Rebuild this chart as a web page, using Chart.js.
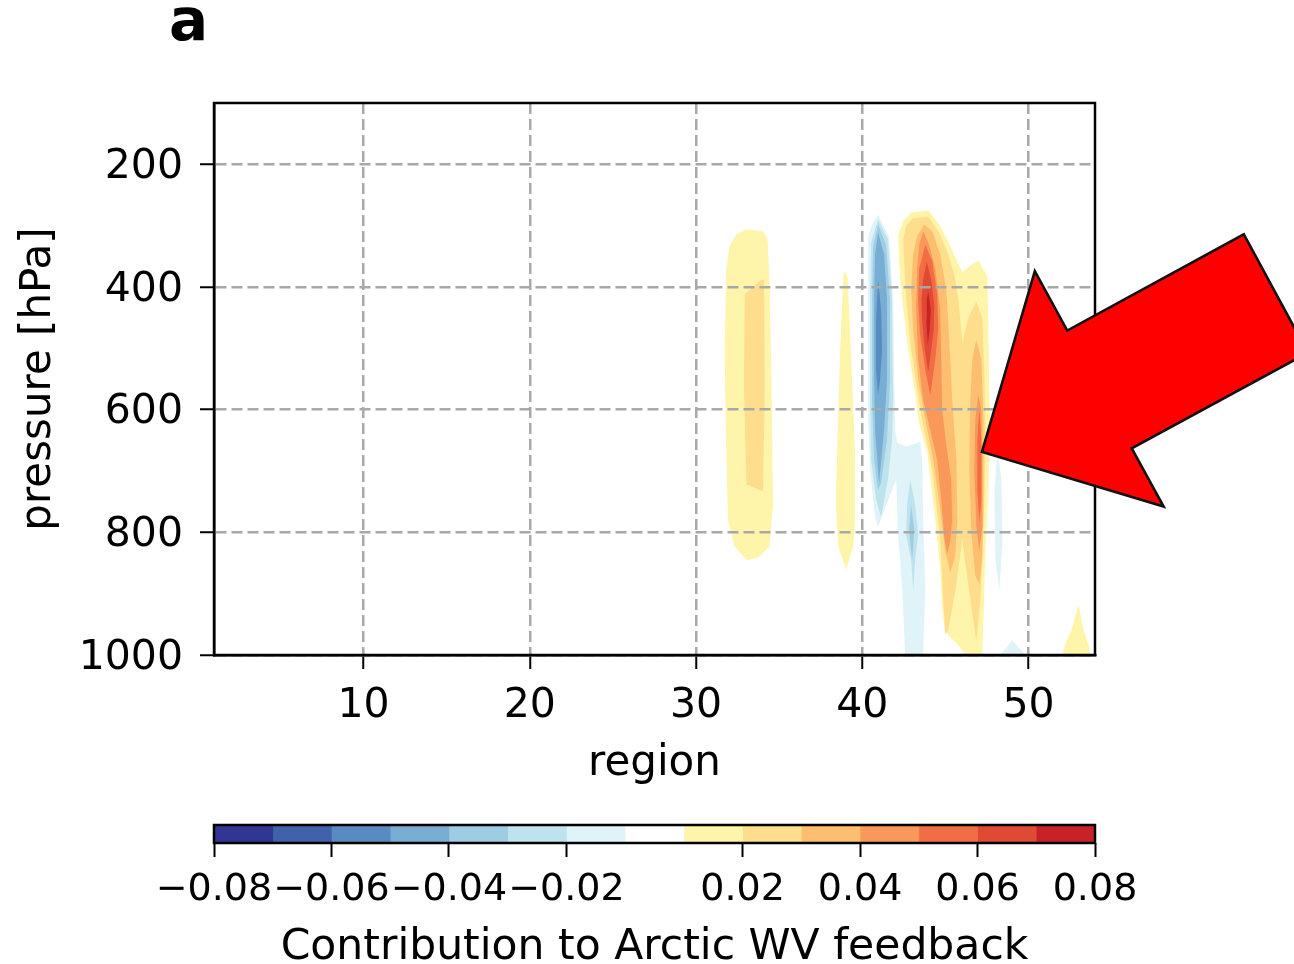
<!DOCTYPE html>
<html>
<head>
<meta charset="utf-8">
<script src="https://cdn.jsdelivr.net/npm/chart.js@4.4.0/dist/chart.umd.min.js"></script>
<style>
	html, body { margin: 0; padding: 0; background: #fff; }
	#wrap { position: relative; width: 1294px; height: 964px; overflow: hidden; }
	#wrap canvas { position: absolute; left: 0; }
	#main { top: 0; }
	#cbar { top: 790px; }
	#panel { position: absolute; left: 169px; top: -9px; font: bold 58px "DejaVu Sans"; line-height: 58px; color: #000; }
</style>
</head>
<body>
<div id="wrap">
	<canvas id="main" width="1294" height="964"></canvas>
	<canvas id="cbar" width="1294" height="174"></canvas>
	<div id="panel">a</div>
</div>
<script>

/*
 |
 | Contour levels and colours (shared by the plot and the colour bar)
 |
 */
let levels = [ -0.08, -0.07, -0.06, -0.05, -0.04, -0.03, -0.02, -0.01, 0.01, 0.02, 0.03, 0.04, 0.05, 0.06, 0.07, 0.08 ]
let bandColors = [
	"#313695", "#4062aa", "#588bc1", "#78aed3", "#9dcce3", "#bee3ee", "#e0f3f8",
	"#ffffff",
	"#fef4aa", "#fede8c", "#fdbe70", "#fa985a", "#f26c44", "#e04a34", "#c82228"
]
let colorbarTicks = [ -0.08, -0.06, -0.04, -0.02, 0.02, 0.04, 0.06, 0.08 ]

let regionTicks = [ 10, 20, 30, 40, 50 ]
let pressureTicks = [ 200, 400, 600, 800, 1000 ]

/*
 |
 | Contour outlines: [ region, pressure (hPa) ]
 |
 */
// region 33
let col33Ge01 = [ [33.03,306],[34.03,309],[34.30,322],[34.43,399],[34.54,562],[34.63,752],[34.43,823],[33.71,842],[33.03,845],[32.32,823],[31.92,780],[31.82,670],[31.72,507],[31.82,371],[32.02,333],[32.43,314] ]
let col33Ge02 = [ [32.93,412],[33.93,388],[34.09,388],[34.13,562],[34.03,733],[33.03,722],[32.88,562] ]
// region 39
let col39Ge01 = [ [38.96,374],[39.12,384],[39.32,507],[39.56,670],[39.56,780],[39.46,823],[39.02,861],[38.56,823],[38.40,752],[38.66,507],[38.86,382] ]
// regions 42-48, warm complex
let warmGe01 = [ [42.16,314],[42.52,290],[43.00,278],[43.97,275],[44.69,301],[45.17,326],[45.60,352],[46.02,376],[46.50,365],[46.98,357],[47.53,383],[47.59,474],[47.65,584],[47.71,633],[47.59,726],[47.41,833],[47.29,943],[47.22,1000],[46.20,1000],[45.78,984],[44.99,962],[44.81,927],[44.69,861],[44.39,780],[43.91,670],[43.36,616],[43.24,584],[42.76,502],[42.40,420],[42.22,363] ]
let warmGe02 = [ [42.46,322],[42.64,300],[43.06,288],[43.97,285],[44.57,309],[45.11,342],[45.54,380],[45.78,420],[46.02,491],[46.38,450],[46.86,424],[47.22,450],[47.35,551],[47.41,633],[47.35,747],[47.22,845],[47.10,910],[46.98,946],[46.86,976],[46.50,910],[46.02,812],[45.60,894],[45.17,959],[44.99,966],[44.87,910],[44.69,812],[44.21,698],[43.60,616],[43.30,567],[42.94,502],[42.64,420],[42.52,355] ]
let warmGe03a = [ [43.73,298],[44.21,309],[44.69,347],[45.05,404],[45.23,486],[45.41,584],[45.66,682],[45.72,780],[45.58,840],[45.29,866],[44.99,830],[44.69,763],[44.27,682],[43.79,616],[43.36,551],[43.06,469],[42.94,404],[43.06,347],[43.30,316] ]
let warmGe03b = [ [46.86,486],[47.16,518],[47.29,616],[47.29,747],[47.22,840],[47.04,885],[46.80,870],[46.56,800],[46.44,698],[46.50,584],[46.62,518] ]
let warmGe04a = [ [43.66,309],[44.03,331],[44.39,371],[44.69,437],[44.75,518],[44.81,600],[45.05,657],[45.35,714],[45.41,780],[45.29,815],[45.11,835],[44.93,808],[44.75,747],[44.51,682],[44.09,633],[43.66,584],[43.36,518],[43.24,437],[43.30,371],[43.42,331] ]
let warmGe04b = [ [46.98,576],[47.16,600],[47.22,698],[47.22,790],[47.04,830],[46.86,790],[46.74,698],[46.80,616] ]
let warmGe05a = [ [43.79,331],[44.21,358],[44.51,412],[44.57,469],[44.39,518],[44.09,576],[43.79,535],[43.48,478],[43.36,420],[43.42,371] ]
let warmGe05b = [ [47.04,600],[47.16,649],[47.16,747],[47.04,783],[46.92,731],[46.92,649] ]
let warmGe06 = [ [43.88,358],[44.15,388],[44.33,429],[44.30,469],[44.15,502],[43.97,538],[43.76,502],[43.60,453],[43.57,420],[43.66,388] ]
let warmGe07 = [ [43.97,407],[44.12,437],[44.06,469],[43.94,494],[43.85,453],[43.88,420] ]
// region 53, near the surface
let col53Ge01 = [ [52.03,1000],[52.23,980],[52.59,959],[53.00,918],[53.32,959],[53.56,980],[53.74,1000] ]
// regions 41-43, negative
let coolLe01 = [ [40.95,282],[41.61,318],[41.86,420],[41.91,551],[41.98,633],[42.10,654],[42.64,660],[43.12,656],[43.48,652],[43.60,682],[43.66,780],[43.79,889],[43.66,1000],[42.58,1000],[42.40,889],[42.16,807],[42.04,714],[40.95,791],[40.77,775],[40.47,698],[40.35,616],[40.35,420],[40.35,319],[40.59,298] ]
let coolLe02a = [ [40.95,290],[41.55,322],[41.79,420],[41.86,584],[41.79,649],[41.55,714],[41.13,775],[40.83,747],[40.53,682],[40.47,584],[40.47,420],[40.53,327] ]
let coolLe02b = [ [42.88,714],[43.18,755],[43.36,804],[43.18,845],[43.06,894],[42.94,845],[42.64,804],[42.70,755] ]
let coolLe03a = [ [40.95,298],[41.43,331],[41.67,420],[41.67,551],[41.49,649],[41.13,719],[40.95,731],[40.71,682],[40.59,584],[40.59,420],[40.65,335] ]
let coolLe03b = [ [42.94,755],[43.12,796],[43.00,845],[42.82,796] ]
let coolLe04 = [ [40.95,311],[41.31,347],[41.49,420],[41.49,551],[41.31,633],[41.01,719],[40.77,633],[40.71,551],[40.71,420],[40.77,347] ]
let coolLe05 = [ [40.95,388],[41.13,437],[41.19,502],[41.07,551],[40.95,576],[40.83,535],[40.83,453] ]
// regions 48-49, negative
let col48Le01 = [ [48.13,665],[48.37,714],[48.43,812],[48.25,894],[48.01,845],[47.95,731] ]
let col49Le01 = [ [48.31,1000],[49.02,976],[49.82,1000] ]

// the red arrow annotation, in the same data units
let arrowRegion = [ 47.2, 50.38, 52.33, 62.95, 66.81, 56.21, 58.13 ]
let arrowPressure = [ 669, 374, 471, 314, 507, 663, 758 ]

// which colour band each outline fills
let contourShapes = [
	[ 8, col33Ge01 ], [ 9, col33Ge02 ], [ 8, col39Ge01 ],
	[ 8, warmGe01 ], [ 9, warmGe02 ], [ 10, warmGe03a ], [ 10, warmGe03b ],
	[ 11, warmGe04a ], [ 11, warmGe04b ], [ 12, warmGe05a ], [ 12, warmGe05b ],
	[ 13, warmGe06 ], [ 14, warmGe07 ], [ 8, col53Ge01 ],
	[ 6, coolLe01 ], [ 5, coolLe02a ], [ 5, coolLe02b ], [ 4, coolLe03a ], [ 4, coolLe03b ],
	[ 3, coolLe04 ], [ 2, coolLe05 ], [ 6, col48Le01 ], [ 6, col49Le01 ]
]

Chart.defaults.font.family = "'DejaVu Sans', sans-serif"
Chart.defaults.color = "#000"

/*
 |
 | The contour plot
 |
 */
let datasets = contourShapes.map( function ( [ band, outline ] ) {
	let depth = band > 7 ? band - 7 : 7 - band
	return {
		data: outline.map( ( [ x, y ] ) => ( { x, y } ) ),
		showLine: true,
		fill: "shape",
		tension: 0,
		backgroundColor: bandColors[ band ],
		borderWidth: 0,
		pointRadius: 0,
		pointHoverRadius: 0,
		// deeper levels are painted last, on top
		order: 100 - depth
	}
} )

let framePlugin = {
	id: "frame",
	afterDraw ( chart ) {
		let ctx = chart.ctx
		let area = chart.chartArea
		ctx.save()
		ctx.strokeStyle = "#000"
		ctx.lineWidth = 2.5
		ctx.strokeRect( area.left, area.top, area.right - area.left, area.bottom - area.top )

		// arrow
		let xs = chart.scales.x, ys = chart.scales.y
		ctx.beginPath()
		arrowRegion.forEach( function ( r, i ) {
			let px = xs.getPixelForValue( r ), py = ys.getPixelForValue( arrowPressure[ i ] )
			if ( i === 0 ) ctx.moveTo( px, py )
			else ctx.lineTo( px, py )
		} )
		ctx.closePath()
		ctx.fillStyle = "#ff0000"
		ctx.fill()
		ctx.lineJoin = "miter"
		ctx.lineWidth = 2.6
		ctx.strokeStyle = "#111"
		ctx.stroke()
		ctx.restore()
	}
}

let tickFont = { family: "'DejaVu Sans', sans-serif", size: 41 }
let titleFont = { family: "'DejaVu Sans', sans-serif", size: 42, lineHeight: 1 }
let gridStyle = { color: "#a8a8a8", lineWidth: 2.5, z: 1, tickLength: 14, tickWidth: 2, tickColor: "#000" }

new Chart( document.getElementById( "main" ), {
	type: "scatter",
	data: { datasets: datasets },
	options: {
		responsive: false,
		animation: false,
		events: [],
		layout: { padding: { left: 0, top: 103, right: 199, bottom: 179 } },
		plugins: { legend: { display: false }, tooltip: { enabled: false } },
		scales: {
			x: {
				type: "linear",
				min: 1,
				max: 54,
				afterFit: function ( scale ) { scale.height = 130 },
				afterBuildTicks: function ( scale ) { scale.ticks = regionTicks.map( v => ( { value: v } ) ) },
				grid: gridStyle,
				border: { color: "#000", width: 2.5, dash: [ 11, 5 ], z: 2 },
				ticks: { font: tickFont, padding: 13, maxRotation: 0, autoSkip: false, callback: v => String( v ) },
				title: { display: true, text: "region", font: titleFont, padding: { top: 0, bottom: 0 } }
			},
			y: {
				type: "linear",
				reverse: true,
				min: 100,
				max: 1000,
				afterFit: function ( scale ) { scale.width = 214 },
				afterBuildTicks: function ( scale ) { scale.ticks = pressureTicks.map( v => ( { value: v } ) ) },
				grid: gridStyle,
				border: { color: "#000", width: 2.5, dash: [ 11, 5 ], z: 2 },
				ticks: { font: tickFont, padding: 17, labelOffset: 3, autoSkip: false, callback: v => String( v ) },
				title: { display: true, text: "pressure [hPa]", font: titleFont, padding: { top: 18, bottom: 0 } }
			}
		}
	},
	plugins: [ framePlugin ]
} )

/*
 |
 | The colour bar (one stacked bar per band, evenly spaced)
 |
 */
let outlinePlugin = {
	id: "outline",
	afterDraw ( chart ) {
		let ctx = chart.ctx
		let area = chart.chartArea
		ctx.save()
		ctx.strokeStyle = "#000"
		ctx.lineWidth = 2.5
		ctx.strokeRect( area.left, area.top, area.right - area.left, area.bottom - area.top )
		ctx.restore()
	}
}

new Chart( document.getElementById( "cbar" ), {
	type: "bar",
	data: {
		labels: [ "" ],
		datasets: bandColors.map( c => ( {
			data: [ 1 ],
			backgroundColor: c,
			borderWidth: 0,
			barPercentage: 1,
			categoryPercentage: 1
		} ) )
	},
	options: {
		indexAxis: "y",
		responsive: false,
		animation: false,
		events: [],
		layout: { padding: { left: 214, right: 199, top: 35, bottom: 0 } },
		plugins: { legend: { display: false }, tooltip: { enabled: false } },
		scales: {
			x: {
				type: "linear",
				stacked: true,
				min: 0,
				max: bandColors.length,
				afterFit: function ( scale ) { scale.height = 121 },
				afterBuildTicks: function ( scale ) { scale.ticks = colorbarTicks.map( v => ( { value: levels.indexOf( v ) } ) ) },
				grid: { drawOnChartArea: false, tickLength: 14, tickWidth: 2, tickColor: "#000" },
				border: { display: false },
				ticks: {
					font: { family: "'DejaVu Sans', sans-serif", size: 38 },
					padding: 10,
					autoSkip: false,
					minRotation: 0,
					maxRotation: 0,
					callback: function ( v ) {
						let level = levels[ v ]
						return ( level < 0 ? "\u2212" : "" ) + Math.abs( level ).toFixed( 2 )
					}
				},
				title: {
					display: true,
					text: "Contribution to Arctic WV feedback",
					font: { family: "'DejaVu Sans', sans-serif", size: 42.5, lineHeight: 0.76 },
					padding: { top: 0, bottom: 0 }
				}
			},
			y: { stacked: true, display: false }
		}
	},
	plugins: [ outlinePlugin ]
} )

</script>
</body>
</html>
